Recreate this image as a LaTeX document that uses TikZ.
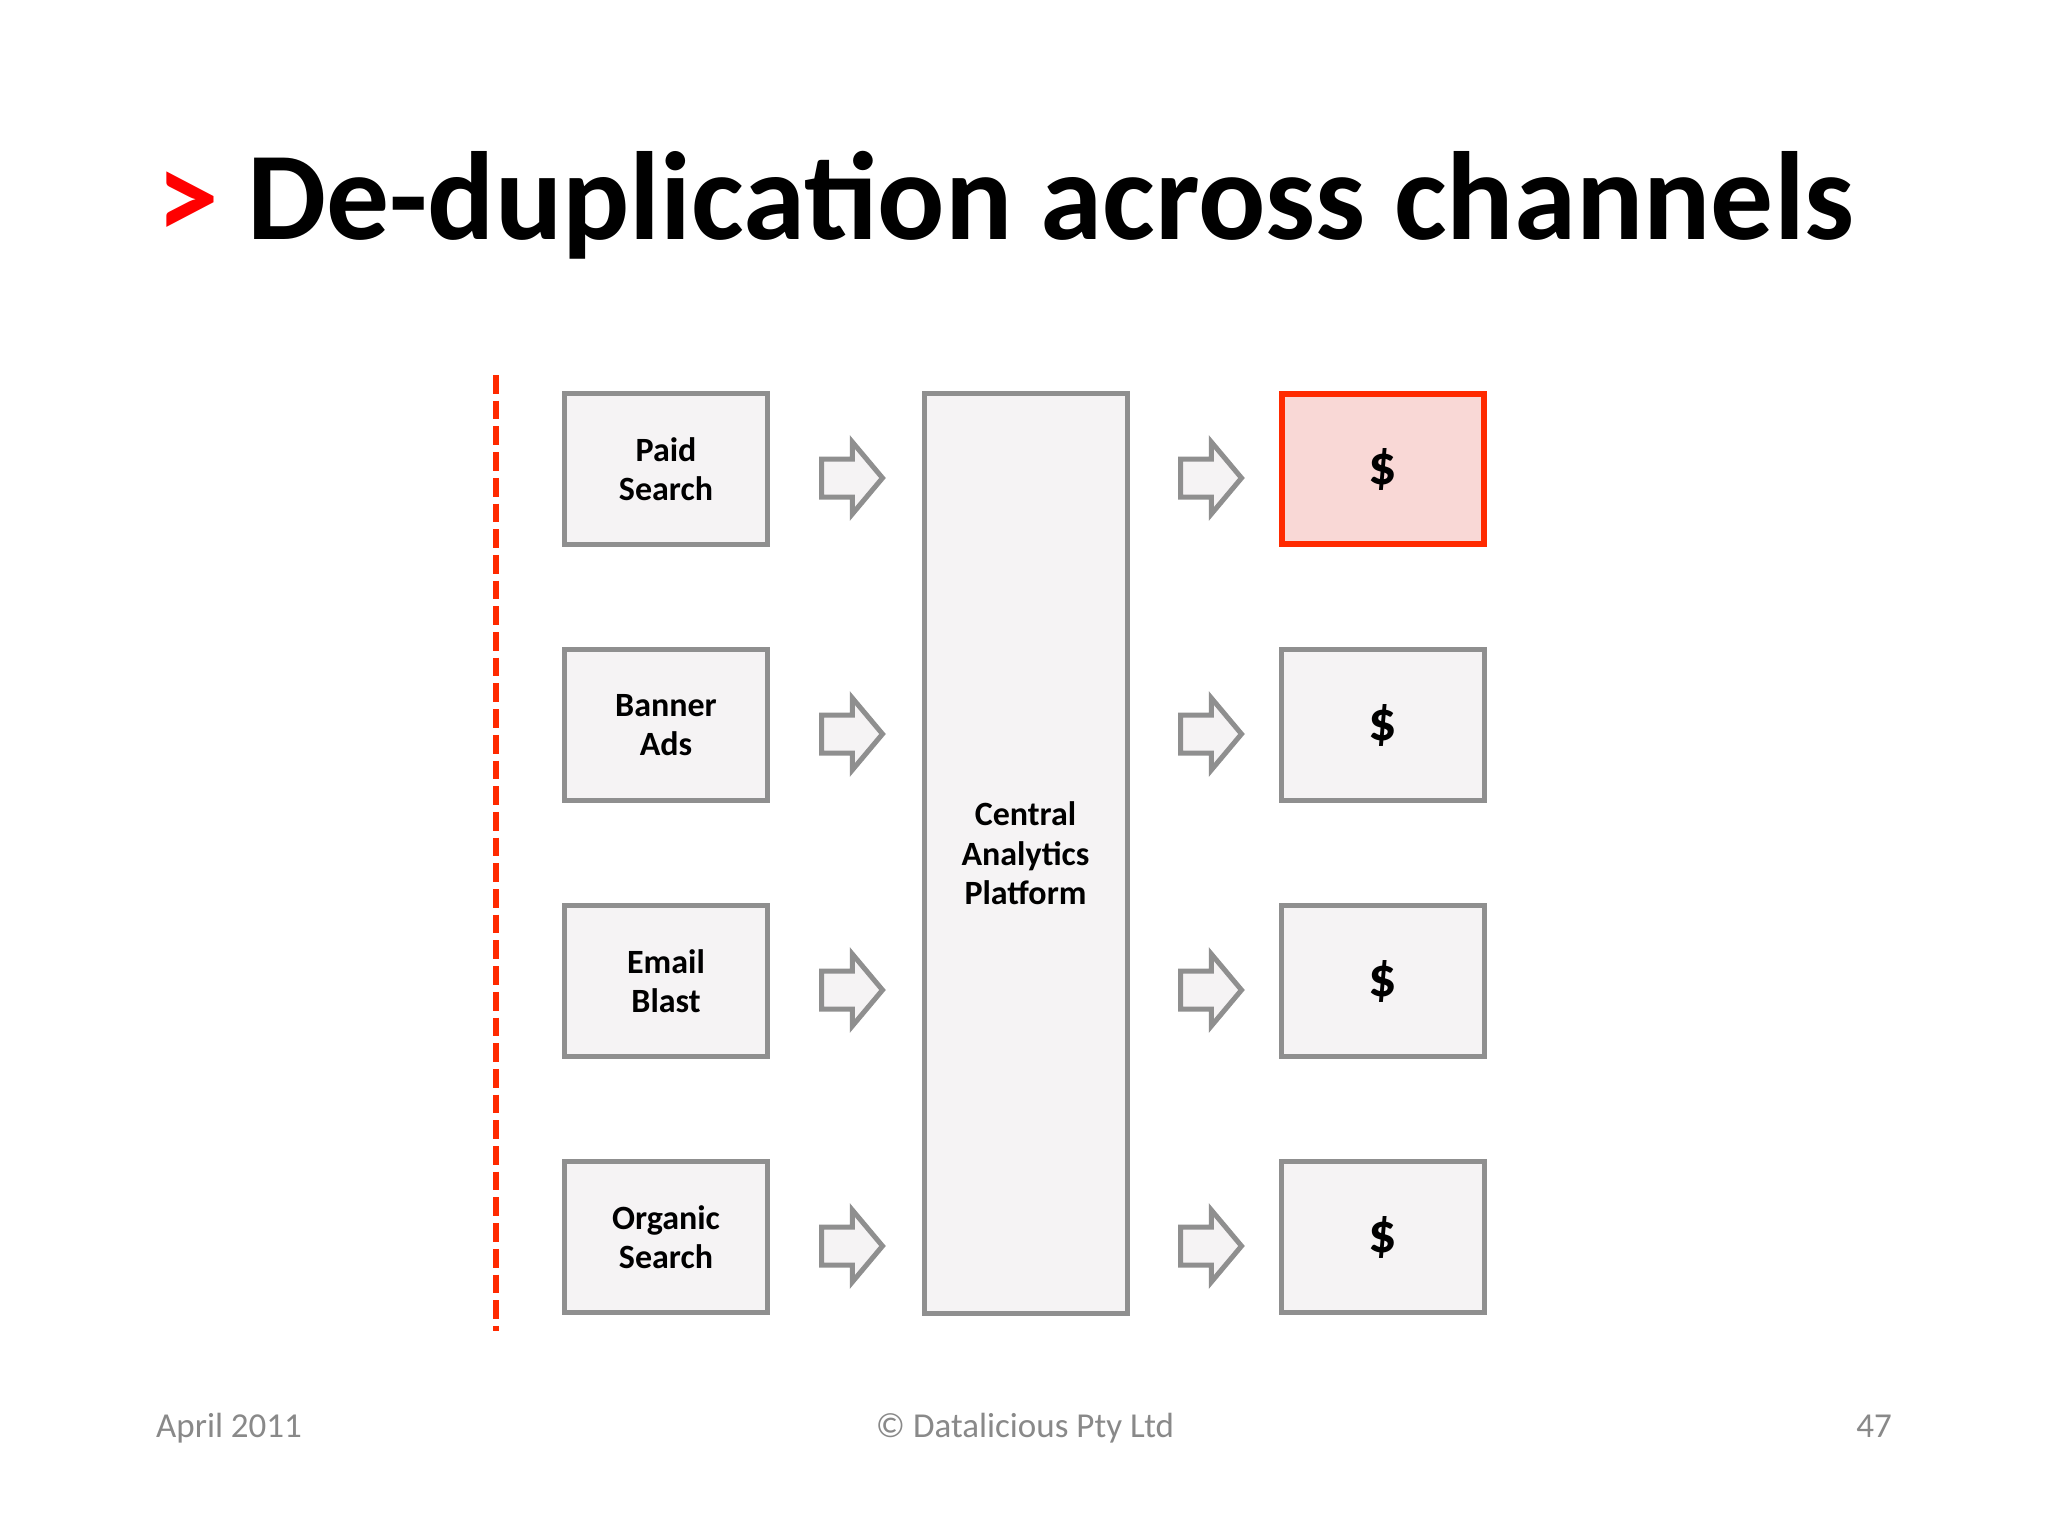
\documentclass[tikz,border=0pt]{standalone}
\usepackage{fontspec}
\setmainfont{Carlito}
\usetikzlibrary{shapes.arrows}
\definecolor{boxfill}{HTML}{F5F3F4}
\definecolor{boxline}{HTML}{8F8F8F}
\definecolor{redline}{HTML}{FF2A00}
\definecolor{redfill}{HTML}{F9D8D6}
\definecolor{footgray}{HTML}{898989}
\definecolor{titlered}{HTML}{FF0000}
\begin{document}
\begin{tikzpicture}[x=1pt,y=-1pt,
  chanbox/.style={draw=boxline, fill=boxfill, line width=5pt, minimum width=203pt, minimum height=151pt, inner sep=0pt, align=center, font=\bfseries\fontsize{34}{39.5}\selectfont},
  moneybox/.style={chanbox, font=\bfseries\fontsize{56}{60}\selectfont},
  hotbox/.style={moneybox, draw=redline, fill=redfill, line width=6pt, minimum width=202pt, minimum height=150pt},
  blockarrow/.style={single arrow, draw=boxline, fill=boxfill, line width=5pt, minimum height=61pt, inner xsep=0pt, inner ysep=16.5pt, single arrow head extend=17pt, single arrow tip angle=100, anchor=tail},
  foottext/.style={inner sep=0pt, text=footgray, font=\fontsize{35}{42}\selectfont},
  ]
\useasboundingbox (0,0) rectangle (2048,1536);
\fill[white] (0,0) rectangle (2048,1536);

% title
\node[anchor=base west, inner sep=0pt, font=\bfseries\fontsize{125.5}{140}\selectfont] (title) at (156,239) {\textcolor{titlered}{>} De-duplication across channels};

% dashed divider
\coordinate (dtop) at (496,375);
\coordinate (dbot) at (496,1331);
\draw[redline, line width=6pt, dash pattern=on 18.7pt off 7pt] (dtop) -- (dbot);

% channel boxes
\node[chanbox] (c1) at (666,469) {Paid\\Search};
\node[chanbox] (c2) at (666,725) {Banner\\Ads};
\node[chanbox] (c3) at (666,981) {Email\\Blast};
\node[chanbox] (c4) at (666,1237) {Organic\\Search};

% central platform
\node[chanbox, minimum height=920pt] (cap) at (1025.5,853.5) {Central\\Analytics\\Platform};

% revenue boxes
\node[hotbox] (m1) at (1382.5,469) {\raisebox{-3pt}{\$}};
\node[moneybox] (m2) at (1382.5,725) {\raisebox{-3pt}{\$}};
\node[moneybox] (m3) at (1382.5,981) {\raisebox{-3pt}{\$}};
\node[moneybox] (m4) at (1382.5,1237) {\raisebox{-3pt}{\$}};

% arrows
\node[blockarrow] (a1) at (819,478) {};
\node[blockarrow] (a2) at (819,734) {};
\node[blockarrow] (a3) at (819,990) {};
\node[blockarrow] (a4) at (819,1246) {};
\node[blockarrow] (b1) at (1178,478) {};
\node[blockarrow] (b2) at (1178,734) {};
\node[blockarrow] (b3) at (1178,990) {};
\node[blockarrow] (b4) at (1178,1246) {};

% footer
\node[foottext, anchor=base west] (date) at (156,1437) {April 2011};
\node[foottext, anchor=base] (copy) at (1025,1437) {© Datalicious Pty Ltd};
\node[foottext, anchor=base east] (page) at (1892,1437) {47};
\end{tikzpicture}
\end{document}
